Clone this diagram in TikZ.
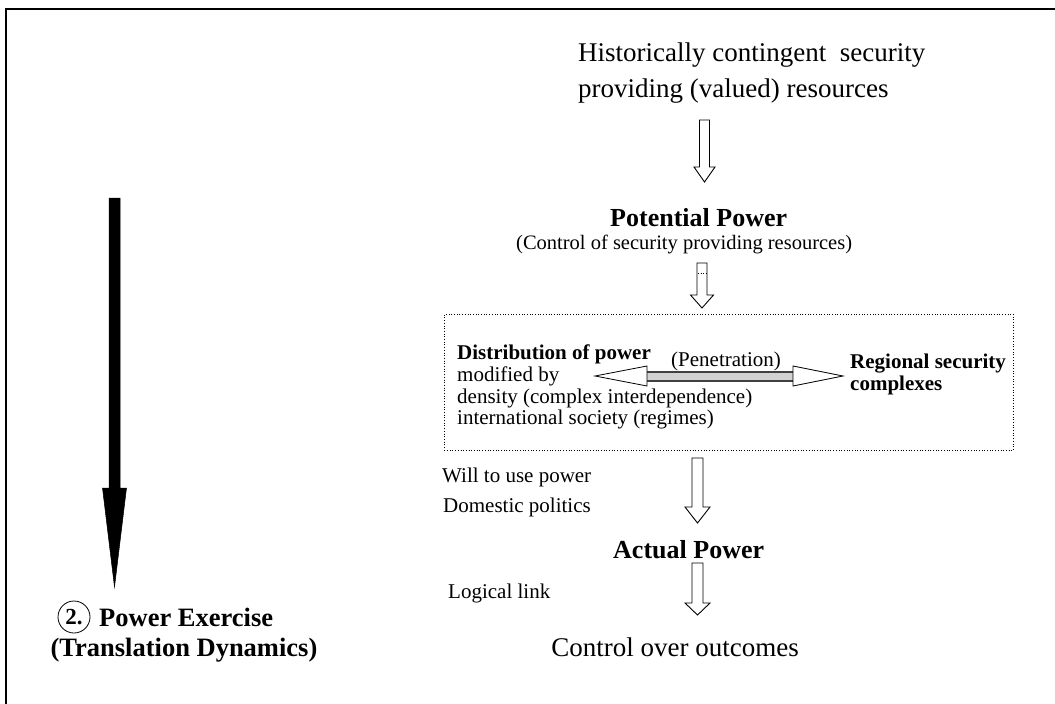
\documentclass[tikz,border=0pt]{standalone}
\usepackage{fontspec}
\setmainfont{Liberation Serif}
\tikzset{
  tx/.style={inner sep=0pt, font=\fontsize{21}{21.5}\selectfont},
  txb/.style={inner sep=0pt, font=\fontsize{21}{22}\selectfont\bfseries},
  tbig/.style={inner sep=0pt, font=\fontsize{27}{36}\selectfont},
  thead/.style={inner sep=0pt, font=\fontsize{26}{30}\selectfont\bfseries},
  tsmall/.style={inner sep=0pt, font=\fontsize{20.5}{22}\selectfont},
  tleft/.style={inner sep=0pt, font=\fontsize{26.5}{30}\selectfont\bfseries},
  hollow/.style={draw=black, fill=white, line width=0.9pt, line join=miter},
  solid arrow/.style={draw=black, fill=black, line width=0.5pt},
}
% style, x, ytop, yhead, ytip, half shaft, half head
\newcommand{\downblock}[7]{%
  \draw[#1] ({#2-#6},#3) -- ({#2+#6},#3) -- ({#2+#6},#4) -- ({#2+#7},#4)
     -- (#2,#5) -- ({#2-#7},#4) -- ({#2-#6},#4) -- cycle;}
\begin{document}
\begin{tikzpicture}[x=1pt,y=-1pt]
\useasboundingbox (0,0) rectangle (1055,704);
% frame (top and left edges)
\draw[line width=2.2pt] (6,704) -- (6,9) -- (1055,9);

% top text
\node[tbig, anchor=west] (hist1) at (578,55) {Historically contingent\ \ security};
\node[tbig, anchor=west] (hist2) at (578,91) {providing (valued) resources};
\downblock{hollow}{704.5}{120}{167}{182}{5}{10.5}

\node[thead, anchor=west] (pot) at (610,218) {Potential Power};
\node[tsmall, anchor=west] (ctrl) at (516,244) {(Control of security providing resources)};
\downblock{hollow}{702}{263}{295}{308}{5}{11.5}
\draw[dotted, line width=0.5pt] (698,273) -- (706,273);

% dotted box
\node[draw, dotted, line width=0.7pt, minimum width=569pt, minimum height=136pt, anchor=north west, inner sep=0pt] (box) at (444,314) {};

\node[txb, anchor=west] (dist) at (457,354) {Distribution of power};
\node[tx, anchor=north west, align=left] (mod) at (457,367) {modified by\\density (complex interdependence)\\international society (regimes)};
\node[tx] (pen) at (726,361) {(Penetration)};
\node[txb, anchor=west, align=left] (reg) at (850,374) {Regional security\\complexes};

% double arrow
\coordinate (ltip) at (595,376);
\coordinate (rtip) at (843,376);
\fill[gray!35] (647,372) rectangle (793,381);
\draw[line width=1.2pt, black!75] (647,372) -- (793,372);
\draw[line width=2pt, black!75] (647,381) -- (793,381);
\draw[hollow, line width=0.8pt] (ltip) -- (647,366) -- (647,386) -- cycle;
\draw[hollow, line width=0.8pt] (rtip) -- (793,366) -- (793,386) -- cycle;

% lower part
\node[tx, anchor=west] (will) at (442,477) {Will to use power};
\node[tx, anchor=west] (dom) at (443,507) {Domestic politics};
\downblock{hollow}{697.5}{458}{507}{523}{5.5}{12.5}
\node[thead, anchor=west] (act) at (613,550) {Actual Power};
\node[tx, anchor=west] (log) at (448,593) {Logical link};
\downblock{hollow}{697.5}{563}{603}{615}{5.5}{12.5}
\node[tbig] (out) at (675,647) {Control over outcomes};

% left side
\downblock{solid arrow}{114.5}{198}{488}{587}{5.5}{12}
\node[circle, draw, line width=0.8pt, inner sep=0pt, minimum size=32pt, font=\fontsize{23}{23}\selectfont\bfseries] (num) at (74,617) {2.};
\node[tleft, anchor=west] (pe) at (99,617) {Power Exercise};
\node[tleft] (td) at (184,650) {(Translation Dynamics)};
\end{tikzpicture}
\end{document}
